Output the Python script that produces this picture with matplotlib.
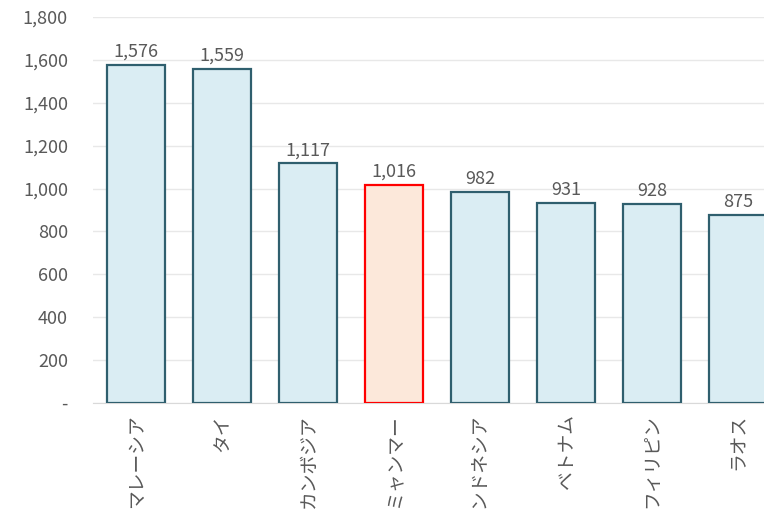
import matplotlib
matplotlib.use("Agg")
from matplotlib import pyplot as plt

countries = ["マレーシア", "タイ", "カンボジア", "ミャンマー", "インドネシア", "ベトナム", "フィリピン", "ラオス"]
values = [1576, 1559, 1117, 1016, 982, 931, 928, 875]
highlight = "ミャンマー"
yticks = [0, 200, 400, 600, 800, 1000, 1200, 1400, 1600, 1800]

plt.rcParams['font.family'] = ['Noto Sans CJK JP', 'DejaVu Sans']

text_color = "#595959"
face = ["#FCE8DA" if c == highlight else "#DAEDF3" for c in countries]
edge = ["#FF0000" if c == highlight else "#2F5F6E" for c in countries]

fig = plt.figure(figsize=(7.64, 5.09), dpi=100)
ax = fig.add_axes([93 / 764, 106 / 509, 1 - 93 / 764, 386 / 509])

x = range(len(countries))
bars = ax.bar(x, values, width=0.675, color=face, edgecolor=edge, linewidth=1.6, zorder=3)

for b, v in zip(bars, values):
    ax.annotate(f"{v:,}", (b.get_x() + b.get_width() / 2, v), xytext=(0, 3),
                textcoords="offset points", ha="center", va="bottom",
                fontsize=13, color=text_color)

ax.set_xlim(-0.5, 7.3)
ax.set_ylim(0, 1800)
ax.set_yticks(yticks)
ax.set_yticklabels(["-" if t == 0 else f"{t:,}" for t in yticks], fontsize=13, color=text_color)
ax.set_xticks(list(x))
ax.set_xticklabels(countries, rotation=90, fontsize=13.5, color=text_color, va="top")

ax.yaxis.grid(True, color="#E8E8E8", linewidth=1, zorder=0)
ax.tick_params(axis="both", length=0)
ax.tick_params(axis="x", pad=8)
ax.tick_params(axis="y", pad=18)
for s in ["top", "right", "left"]:
    ax.spines[s].set_visible(False)
ax.spines["bottom"].set_color("#D9D9D9")

fig.savefig("out.png", dpi=100)
